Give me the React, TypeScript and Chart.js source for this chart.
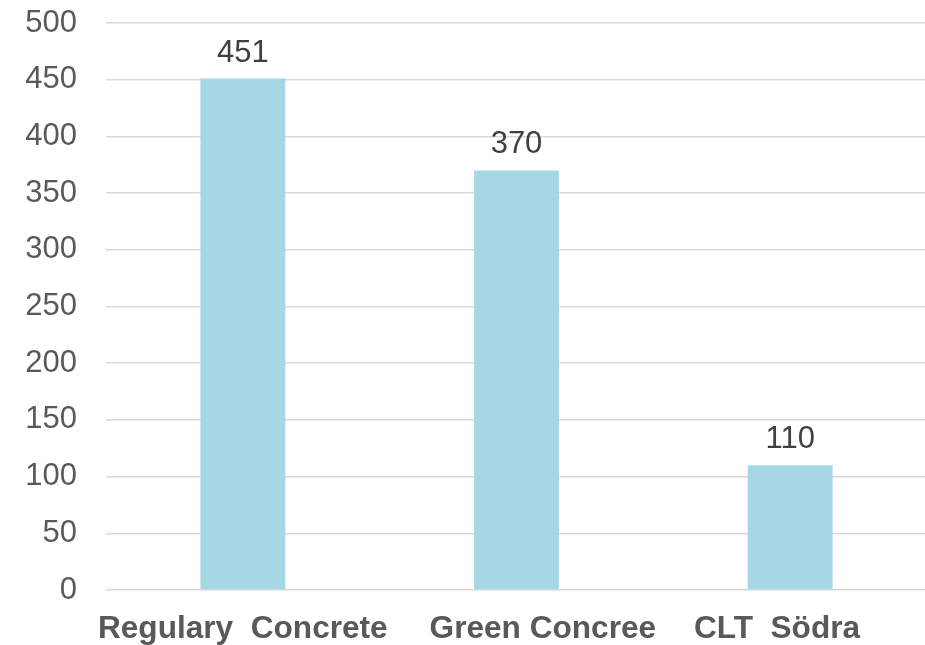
import React, { useEffect, useRef } from "react";
import { Chart, registerables } from "chart.js";

Chart.register(...registerables);

const categories = ["Regulary  Concrete", "Green Concree", "CLT  Södra"];
const values = [451, 370, 110];
const yTicks = [0, 50, 100, 150, 200, 250, 300, 350, 400, 450, 500];
// visual nudges of category labels (in space characters; + = leading, - = trailing)
const labelNudge = [0, 6, -3];

const FONT = "'Liberation Sans', Arial, sans-serif";

const valueLabels = {
  id: "valueLabels",
  afterDatasetsDraw(chart: any) {
    const ctx = chart.ctx;
    const meta = chart.getDatasetMeta(0);
    ctx.save();
    ctx.font = `31px ${FONT}`;
    ctx.fillStyle = "#404040";
    ctx.textAlign = "center";
    ctx.textBaseline = "alphabetic";
    meta.data.forEach((bar: any, i: number) => {
      ctx.fillText(String(values[i]), bar.x, bar.y - 17);
    });
    ctx.restore();
  },
};

export default function App() {
  const ref = useRef<HTMLCanvasElement | null>(null);
  useEffect(() => {
    if (!ref.current) return;
    const chart = new Chart(ref.current, {
      type: "bar",
      data: {
        labels: categories,
        datasets: [
          {
            data: values,
            backgroundColor: "#A5D8E4",
            borderWidth: 0,
            barPercentage: 0.31,
            categoryPercentage: 1,
          },
        ],
      },
      options: {
        responsive: false,
        animation: false,
        layout: { padding: { top: 23, right: 0, bottom: 0, left: 0 } },
        plugins: {
          legend: { display: false },
          tooltip: { enabled: false },
        },
        scales: {
          x: {
            grid: { display: false, drawTicks: false },
            border: { display: false },
            afterFit: (scale: any) => {
              scale.height = 55;
            },
            ticks: {
              padding: 20,
              color: "#595959",
              font: { family: FONT, size: 31.6, weight: "bold" },
              maxRotation: 0,
              autoSkip: false,
              callback: (_v: any, i: number) => {
                const n = labelNudge[i];
                const s = " ".repeat(Math.abs(n));
                return n >= 0 ? s + categories[i] : categories[i] + s;
              },
            },
          },
          y: {
            min: 0,
            max: 500,
            afterBuildTicks: (scale: any) => {
              scale.ticks = yTicks.map((v) => ({ value: v }));
            },
            afterFit: (scale: any) => {
              scale.width = 106;
              scale.paddingTop = 0;
              scale.paddingBottom = 0;
            },
            grid: { color: "#D9D9D9", lineWidth: 1.5, drawTicks: false },
            border: { display: false },
            ticks: {
              padding: 29,
              color: "#595959",
              font: { family: FONT, size: 31 },
            },
          },
        },
      },
      plugins: [valueLabels],
    });
    return () => chart.destroy();
  }, []);
  return (
    <div
      style={{
        position: "fixed",
        left: 0,
        top: 0,
        width: 925,
        height: 645,
        overflow: "hidden",
        background: "#fff",
      }}
    >
      <canvas ref={ref} width={927} height={645} style={{ display: "block" }} />
    </div>
  );
}
